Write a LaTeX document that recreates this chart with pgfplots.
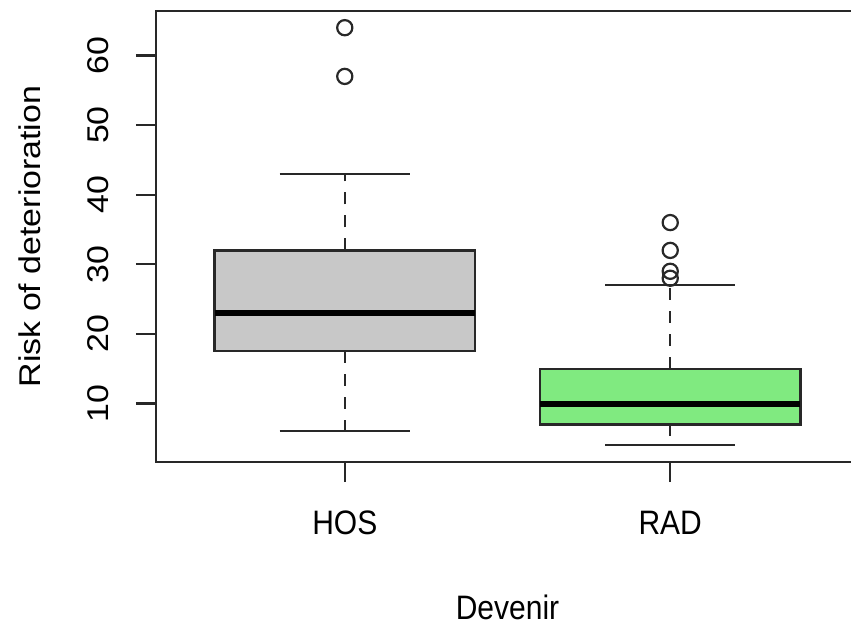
\documentclass[border=0pt]{standalone}
\usepackage{fontspec}
\setmainfont{Liberation Sans}
\usepackage{pgfplots}
\pgfplotsset{compat=1.18}
\definecolor{boxgray}{RGB}{200,200,200}
\definecolor{boxgreen}{RGB}{128,234,128}
\definecolor{lineC}{RGB}{40,40,40}
\begin{document}
\begin{tikzpicture}
\useasboundingbox (0,0) rectangle (425.5bp,314.5bp);
\begin{axis}[
  at={(78bp,83.5bp)}, anchor=south west,
  scale only axis, width=351.5bp, height=225.5bp,
  xmin=0.42, xmax=2.58, ymin=1.6, ymax=66.4,
  xtick={1,2}, xticklabels={HOS,RAD},
  ytick={10,20,30,40,50,60},
  xtick pos=bottom, ytick pos=left,
  tick align=outside, major tick length=10bp,
  axis line style={lineC, line width=1.1bp},
  every tick/.style={lineC, line width=1.1bp},
  font=\fontsize{15bp}{18bp}\selectfont,
  /pgf/number format/assume math mode=true,
  xticklabel style={yscale=1.13, anchor=center, inner sep=0pt},
  xticklabel shift=20.5bp,
  yticklabel style={yscale=1.13, rotate=90, anchor=center, inner sep=0pt},
  yticklabel shift=19bp,
  xlabel={Devenir}, ylabel={Risk of deterioration},
  every axis x label/.style={at={(rel axis cs:0.5,0)}, anchor=center, yshift=-72.5bp, yscale=1.13},
  every axis y label/.style={at={(rel axis cs:0,0.5)}, anchor=center, xshift=-63bp, yscale=1.13, rotate=90},
  clip=false,
  unbounded coords=jump,
  whisk/.style={lineC, line width=1.1bp, dash pattern=on 6bp off 5.5bp, mark=none},
  cap/.style={lineC, line width=1.1bp, mark=none},
  boxst/.style={draw=lineC, line width=1.1bp, mark=none},
  med/.style={black, line width=3bp, mark=none},
  outl/.style={only marks, mark=o, mark size=3.8bp, mark options={draw=lineC, line width=1.1bp, fill=none, solid}},
]
% HOS
\addplot[whisk] coordinates {(1,32) (1,43) (1,nan) (1,17.5) (1,6)};
\addplot[cap] coordinates {(0.8,43) (1.2,43) (1,nan) (0.8,6) (1.2,6)};
\addplot[boxst, fill=boxgray] coordinates {(0.6,17.5) (1.4,17.5) (1.4,32) (0.6,32)} -- cycle;
\addplot[med] coordinates {(0.6,23) (1.4,23)};
\addplot[outl] coordinates {(1,57) (1,64)};
% RAD
\addplot[whisk] coordinates {(2,15) (2,27) (2,nan) (2,7) (2,4)};
\addplot[cap] coordinates {(1.8,27) (2.2,27) (2,nan) (1.8,4) (2.2,4)};
\addplot[boxst, fill=boxgreen] coordinates {(1.6,7) (2.4,7) (2.4,15) (1.6,15)} -- cycle;
\addplot[med] coordinates {(1.6,10) (2.4,10)};
\addplot[outl] coordinates {(2,28) (2,29) (2,32) (2,36)};
\draw[lineC, line width=1.4bp] (axis cs:1,1.6) -- (axis cs:2,1.6);
\end{axis}
\end{tikzpicture}
\end{document}
